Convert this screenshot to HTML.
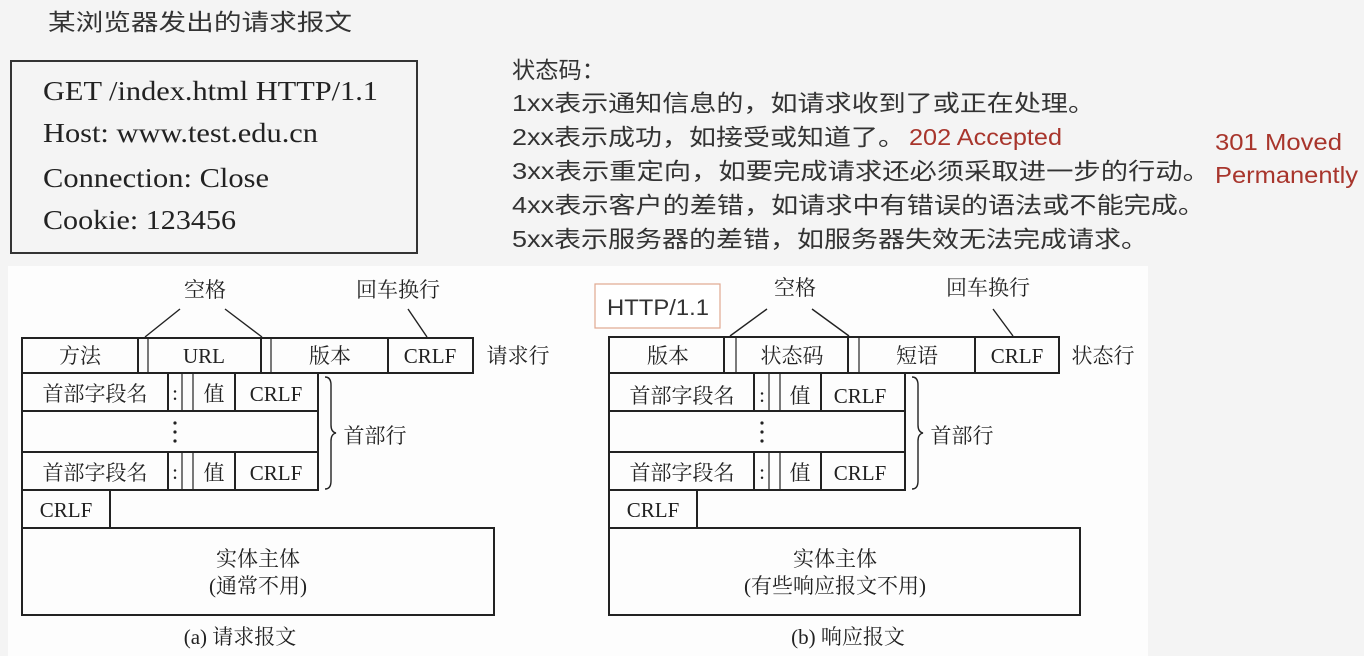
<!DOCTYPE html>
<html><head><meta charset="utf-8"><style>
html,body{margin:0;padding:0;background:#f4f4f4;}
svg{display:block;}
.s{font-family:"Liberation Serif","Noto Serif CJK SC",serif;fill:#222;}
.a{font-family:"Liberation Sans","Noto Sans CJK SC",sans-serif;fill:#333;}
.r{font-family:"Liberation Sans","Noto Sans CJK SC",sans-serif;fill:#a8352c;}
</style></head><body>
<svg width="1364" height="656" viewBox="0 0 1364 656" xmlns="http://www.w3.org/2000/svg">
<rect x="0" y="0" width="1364" height="656" fill="#f4f4f4"/>
<rect x="8" y="266" width="1140" height="390" fill="#fdfdfd"/>
<text class="a" x="48" y="30" font-size="23" textLength="304" lengthAdjust="spacingAndGlyphs">某浏览器发出的请求报文</text>
<rect x="11" y="61" width="406" height="192" fill="none" stroke="#333" stroke-width="2"/>
<g class="s" font-size="27">
<text x="43" y="100" textLength="335" lengthAdjust="spacingAndGlyphs">GET /index.html HTTP/1.1</text>
<text x="43" y="142" textLength="275" lengthAdjust="spacingAndGlyphs">Host: www.test.edu.cn</text>
<text x="43" y="187" textLength="226" lengthAdjust="spacingAndGlyphs">Connection: Close</text>
<text x="43" y="229" textLength="193" lengthAdjust="spacingAndGlyphs">Cookie: 123456</text>
</g>
<g class="a" font-size="23">
<text x="512" y="78" textLength="93" lengthAdjust="spacingAndGlyphs">状态码：</text>
<text x="512" y="111" textLength="583" lengthAdjust="spacingAndGlyphs">1xx表示通知信息的，如请求收到了或正在处理。</text>
<text x="512" y="145" textLength="393" lengthAdjust="spacingAndGlyphs">2xx表示成功，如接受或知道了。</text>
<text x="512" y="179" textLength="698" lengthAdjust="spacingAndGlyphs">3xx表示重定向，如要完成请求还必须采取进一步的行动。</text>
<text x="512" y="213" textLength="693" lengthAdjust="spacingAndGlyphs">4xx表示客户的差错，如请求中有错误的语法或不能完成。</text>
<text x="512" y="247" textLength="636" lengthAdjust="spacingAndGlyphs">5xx表示服务器的差错，如服务器失效无法完成请求。</text>
</g>
<g class="r" font-size="23">
<text x="909" y="145" textLength="153" lengthAdjust="spacingAndGlyphs">202 Accepted</text>
<text x="1215" y="150" textLength="127" lengthAdjust="spacingAndGlyphs">301 Moved</text>
<text x="1215" y="183" textLength="143" lengthAdjust="spacingAndGlyphs">Permanently</text>
</g>

<!-- Left diagram -->
<g fill="none" stroke="#222" stroke-width="2">
<rect x="22" y="338" width="451" height="35"/>
<line x1="138" y1="338" x2="138" y2="373"/><line x1="148" y1="338" x2="148" y2="373" stroke-width="1.2"/>
<line x1="261" y1="338" x2="261" y2="373"/><line x1="271" y1="338" x2="271" y2="373" stroke-width="1.2"/>
<line x1="388" y1="338" x2="388" y2="373"/>
<rect x="22" y="373" width="296" height="117"/>
<line x1="22" y1="411" x2="318" y2="411"/><line x1="22" y1="452" x2="318" y2="452"/>
<line x1="168" y1="373" x2="168" y2="411"/><line x1="182" y1="373" x2="182" y2="411" stroke-width="1.2"/><line x1="193" y1="373" x2="193" y2="411" stroke-width="1.2"/><line x1="235" y1="373" x2="235" y2="411"/>
<line x1="168" y1="452" x2="168" y2="490"/><line x1="182" y1="452" x2="182" y2="490" stroke-width="1.2"/><line x1="193" y1="452" x2="193" y2="490" stroke-width="1.2"/><line x1="235" y1="452" x2="235" y2="490"/>
<rect x="22" y="490" width="88" height="38"/>
<rect x="22" y="528" width="472" height="87"/>
<line x1="145" y1="337" x2="180" y2="309" stroke-width="1.4"/><line x1="262" y1="337" x2="225" y2="309" stroke-width="1.4"/>
<line x1="427" y1="337" x2="408" y2="309" stroke-width="1.4"/>
<path d="M325 377 Q331 377 331 385 L331 425 Q331 432 336 433 Q331 434 331 441 L331 481 Q331 489 325 489" stroke-width="1.4"/>
</g>
<g fill="#222">
<circle cx="175" cy="423" r="1.6"/><circle cx="175" cy="432" r="1.6"/><circle cx="175" cy="441" r="1.6"/>
<circle cx="762" cy="423" r="1.6"/><circle cx="762" cy="432" r="1.6"/><circle cx="762" cy="441" r="1.6"/>
</g>
<g class="s" font-size="21" text-anchor="middle">
<text x="80" y="363">方法</text><text x="204" y="363">URL</text><text x="330" y="363">版本</text><text x="430" y="363">CRLF</text>
<text x="518" y="363">请求行</text>
<text x="205" y="297">空格</text><text x="398" y="297">回车换行</text>
<text x="95" y="401">首部字段名</text><text x="175" y="400">:</text><text x="214" y="401">值</text><text x="276" y="401">CRLF</text>
<text x="95" y="480">首部字段名</text><text x="175" y="479">:</text><text x="214" y="480">值</text><text x="276" y="480">CRLF</text>
<text x="375" y="443">首部行</text>
<text x="66" y="517">CRLF</text>
<text x="258" y="566">实体主体</text><text x="258" y="593">(通常不用)</text>
<text x="240" y="644">(a) 请求报文</text>
</g>

<!-- Right diagram -->
<rect x="595" y="284" width="125" height="44" fill="#fff" stroke="#e0a890" stroke-width="1.2"/>
<text class="a" x="607" y="315" font-size="22" textLength="102" lengthAdjust="spacingAndGlyphs">HTTP/1.1</text>
<g fill="none" stroke="#222" stroke-width="2">
<rect x="609" y="337" width="450" height="36"/>
<line x1="724" y1="337" x2="724" y2="373"/><line x1="736" y1="337" x2="736" y2="373" stroke-width="1.2"/>
<line x1="848" y1="337" x2="848" y2="373"/><line x1="859" y1="337" x2="859" y2="373" stroke-width="1.2"/>
<line x1="975" y1="337" x2="975" y2="373"/>
<rect x="609" y="373" width="296" height="117"/>
<line x1="609" y1="411" x2="905" y2="411"/><line x1="609" y1="452" x2="905" y2="452"/>
<line x1="754" y1="373" x2="754" y2="411"/><line x1="769" y1="373" x2="769" y2="411" stroke-width="1.2"/><line x1="780" y1="373" x2="780" y2="411" stroke-width="1.2"/><line x1="821" y1="373" x2="821" y2="411"/>
<line x1="754" y1="452" x2="754" y2="490"/><line x1="769" y1="452" x2="769" y2="490" stroke-width="1.2"/><line x1="780" y1="452" x2="780" y2="490" stroke-width="1.2"/><line x1="821" y1="452" x2="821" y2="490"/>
<rect x="609" y="490" width="88" height="38"/>
<rect x="609" y="528" width="471" height="87"/>
<line x1="730" y1="336" x2="767" y2="309" stroke-width="1.4"/><line x1="849" y1="336" x2="812" y2="309" stroke-width="1.4"/>
<line x1="1013" y1="336" x2="993" y2="309" stroke-width="1.4"/>
<path d="M912 377 Q918 377 918 385 L918 425 Q918 432 923 433 Q918 434 918 441 L918 481 Q918 489 912 489" stroke-width="1.4"/>
</g>
<g class="s" font-size="21" text-anchor="middle">
<text x="668" y="363">版本</text><text x="792" y="363">状态码</text><text x="917" y="363">短语</text><text x="1017" y="363">CRLF</text>
<text x="1103" y="363">状态行</text>
<text x="795" y="295">空格</text><text x="988" y="295">回车换行</text>
<text x="682" y="403">首部字段名</text><text x="762" y="402">:</text><text x="800" y="403">值</text><text x="860" y="403">CRLF</text>
<text x="682" y="480">首部字段名</text><text x="762" y="479">:</text><text x="800" y="480">值</text><text x="860" y="480">CRLF</text>
<text x="962" y="443">首部行</text>
<text x="653" y="517">CRLF</text>
<text x="835" y="566">实体主体</text><text x="835" y="593">(有些响应报文不用)</text>
<text x="848" y="644">(b) 响应报文</text>
</g>
</svg>
</body></html>
